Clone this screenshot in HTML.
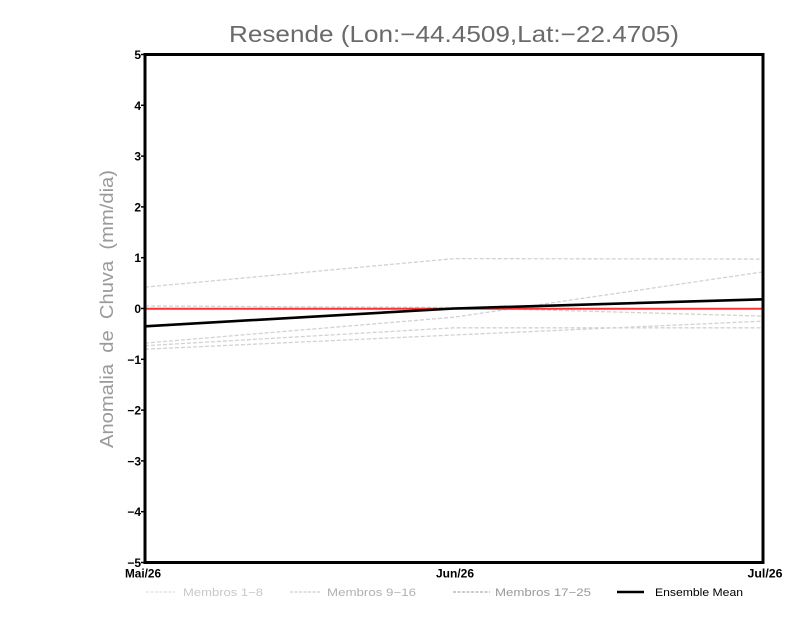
<!DOCTYPE html>
<html>
<head>
<meta charset="utf-8">
<style>
html,body{margin:0;padding:0;background:#fff;}
svg{display:block;}
</style>
</head>
<body>
<svg width="800" height="618" viewBox="0 0 800 618" xmlns="http://www.w3.org/2000/svg">
<rect width="800" height="618" fill="#fff"/>
<!-- title -->
<text x="454" y="42" font-family="Liberation Sans, sans-serif" font-size="23" fill="#6a6a6a" text-anchor="middle" textLength="450" lengthAdjust="spacingAndGlyphs">Resende (Lon:−44.4509,Lat:−22.4705)</text>
<!-- y label -->
<text transform="translate(113,309) rotate(-90)" font-family="Liberation Sans, sans-serif" font-size="18" fill="#9a9a9a" text-anchor="middle" word-spacing="5" textLength="278" lengthAdjust="spacingAndGlyphs">Anomalia de Chuva (mm/dia)</text>

<!-- member lines -->
<g fill="none" stroke="#d2d2d2" stroke-width="1.3" stroke-dasharray="4,2">
<polyline points="145,287.1 454,258.6 763,259.1"/>
<polyline points="145,306 454,307.5 763,316.1"/>
<polyline points="145,343.1 454,317.2 763,271.9"/>
<polyline points="145,345.7 454,327.8 763,327.8"/>
<polyline points="145,349.2 454,335 763,321.2"/>
</g>
<!-- zero line -->
<line x1="145" y1="308.7" x2="763" y2="308.7" stroke="#ff3030" stroke-width="2"/>
<!-- ensemble mean -->
<polyline points="145,326.3 454,308.5 763,299.3" fill="none" stroke="#000" stroke-width="2.6"/>

<!-- frame -->
<rect x="145" y="54.5" width="618" height="508" fill="none" stroke="#000" stroke-width="3"/>

<!-- y ticks -->
<g stroke="#000" stroke-width="1.5">
<line x1="141" y1="54.5" x2="145" y2="54.5"/>
<line x1="141" y1="105.3" x2="145" y2="105.3"/>
<line x1="141" y1="156.1" x2="145" y2="156.1"/>
<line x1="141" y1="206.9" x2="145" y2="206.9"/>
<line x1="141" y1="257.7" x2="145" y2="257.7"/>
<line x1="141" y1="308.5" x2="145" y2="308.5"/>
<line x1="141" y1="359.3" x2="145" y2="359.3"/>
<line x1="141" y1="410.1" x2="145" y2="410.1"/>
<line x1="141" y1="460.9" x2="145" y2="460.9"/>
<line x1="141" y1="511.7" x2="145" y2="511.7"/>
<line x1="141" y1="562.5" x2="145" y2="562.5"/>
</g>
<g font-family="Liberation Sans, sans-serif" font-size="12" font-weight="bold" fill="#000" text-anchor="end">
<text x="141" y="59">5</text>
<text x="141" y="109.8">4</text>
<text x="141" y="160.6">3</text>
<text x="141" y="211.4">2</text>
<text x="141" y="262.2">1</text>
<text x="141" y="313">0</text>
<text x="141" y="363.8">−1</text>
<text x="141" y="414.6">−2</text>
<text x="141" y="465.4">−3</text>
<text x="141" y="516.2">−4</text>
<text x="141" y="567">−5</text>
</g>
<!-- x labels -->
<g font-family="Liberation Sans, sans-serif" font-size="12" font-weight="bold" fill="#000" text-anchor="middle">
<text x="143" y="577.5" textLength="36" lengthAdjust="spacingAndGlyphs">Mai/26</text>
<text x="455" y="577.5" textLength="38" lengthAdjust="spacingAndGlyphs">Jun/26</text>
<text x="765" y="577.5" textLength="35" lengthAdjust="spacingAndGlyphs">Jul/26</text>
</g>

<!-- legend -->
<g font-family="Liberation Sans, sans-serif" font-size="11">
<line x1="146" y1="592" x2="175" y2="592" stroke="#d8d8d8" stroke-width="1" stroke-dasharray="3,1.5"/>
<text x="183" y="596" fill="#c8c8c8" textLength="80" lengthAdjust="spacingAndGlyphs">Membros 1−8</text>
<line x1="290" y1="592" x2="320" y2="592" stroke="#c0c0c0" stroke-width="1" stroke-dasharray="3,1.5"/>
<text x="327" y="596" fill="#b0b0b0" textLength="89" lengthAdjust="spacingAndGlyphs">Membros 9−16</text>
<line x1="453" y1="592" x2="490" y2="592" stroke="#999" stroke-width="1" stroke-dasharray="3,1.5"/>
<text x="495" y="596" fill="#999" textLength="96" lengthAdjust="spacingAndGlyphs">Membros 17−25</text>
<line x1="617" y1="592" x2="644" y2="592" stroke="#000" stroke-width="2.5"/>
<text x="655" y="596" fill="#000" textLength="88" lengthAdjust="spacingAndGlyphs">Ensemble Mean</text>
</g>
</svg>
</body>
</html>
